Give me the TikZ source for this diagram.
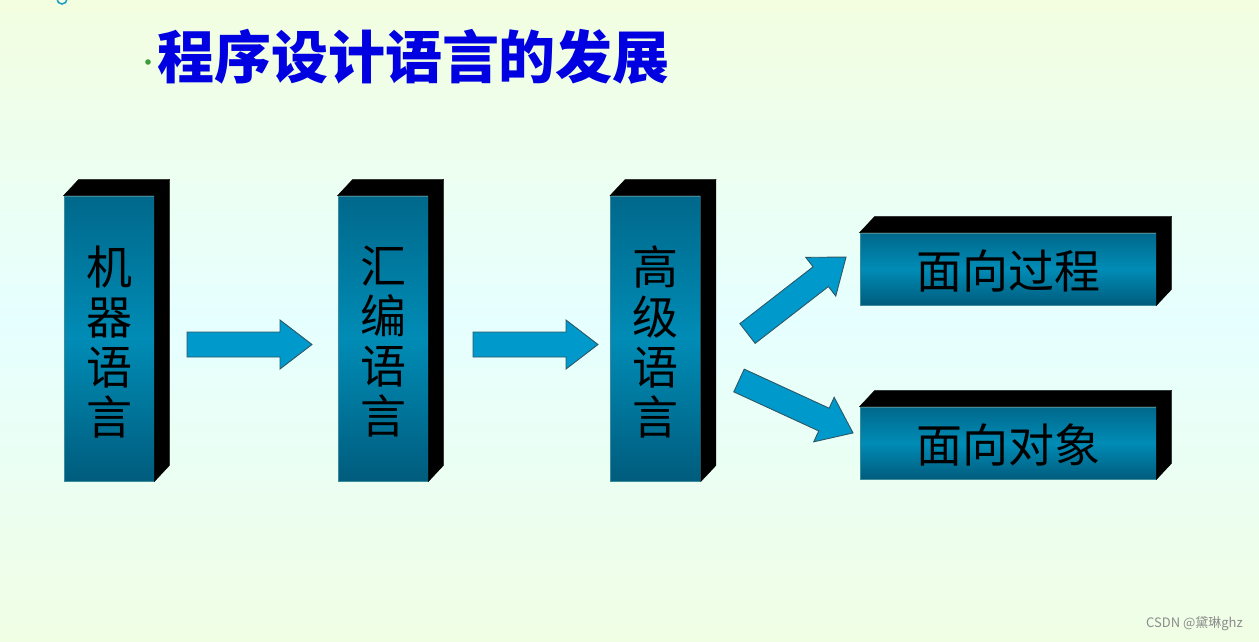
\documentclass[tikz,border=0pt]{standalone}
\usepackage{fontspec}
\newfontfamily\cjk{Noto Sans CJK SC}
\usetikzlibrary{calc}
\definecolor{bgtop}{HTML}{F3FEE0}
\definecolor{bgmid}{HTML}{E6FFFF}
\definecolor{bgbot}{HTML}{F0FEE4}
\definecolor{facetop}{HTML}{00688B}
\definecolor{facemid}{HTML}{008CB6}
\definecolor{facebot}{HTML}{005C7D}
\definecolor{faceline}{HTML}{3C8C9C}
\definecolor{arrowfillc}{HTML}{0099CC}
\definecolor{arrowline}{HTML}{2E5866}
\definecolor{titleblue}{HTML}{0000E0}
\definecolor{dotgreen}{HTML}{3C9C3C}
\definecolor{markcyan}{HTML}{20A0C8}
\tikzset{
  frontface/.style={shape=rectangle, inner sep=0pt, top color=facetop, bottom color=facebot, middle color=facemid, draw=faceline, line width=0.8pt, text=black},
  vtext/.style={font=\cjk\fontsize{46}{50}\selectfont, align=center},
  htext/.style={font=\cjk\fontsize{46}{50}\selectfont},
  darkside/.style={fill=black, draw=black, line width=0.5pt},
  arrowbody/.style={fill=arrowfillc, draw=arrowline, line width=0.9pt, line join=miter},
  blockarrow/.pic={
    \path[arrowbody] (0,-12.5) -- ({#1-32},-12.5) -- ({#1-32},-24.5) -- (#1,0) -- ({#1-32},24.5) -- ({#1-32},12.5) -- (0,12.5) -- cycle;
  }
}
\begin{document}
\begin{tikzpicture}[x=1pt,y=-1pt]
\useasboundingbox (0,0) rectangle (1259,641);
\shade[top color=bgtop, bottom color=bgbot, middle color=bgmid] (0,0) rectangle (1259,641);
% partial glyph at top-left
\draw[markcyan, line width=1.6pt] (57,-1) arc[start angle=180, end angle=0, radius=5];
% title
\fill[dotgreen] (148,62) circle[radius=2.8];
\node[font=\cjk\bfseries\fontsize{57}{60}\selectfont, text=titleblue, inner sep=0pt] (title) at (413.5,57) {程序设计语言的发展};
% vertical boxes
\foreach \n/\cx/\txt in {b1/109/{机\\器\\语\\言}, b2/383/{汇\\编\\语\\言}, b3/655.5/{高\\级\\语\\言}}{
  \node[frontface, minimum width=90pt, minimum height=285pt] (\n) at (\cx,338.5) {};
  \fill[darkside] (\n.north west) -- ++(15,-16) -- ([shift={(15,-16)}]\n.north east) -- (\n.north east) -- cycle;
  \fill[darkside] (\n.north east) -- ++(15,-16) -- ([shift={(15,-16)}]\n.south east) -- (\n.south east) -- cycle;
  \node[vtext] (\n t) at ([yshift=-3pt]\n.center) {\txt};
}
% horizontal boxes
\foreach \n/\cy/\txt in {b4/269/面向过程, b5/443/面向对象}{
  \node[frontface, minimum width=296pt, minimum height=72pt] (\n) at (1008,\cy) {};
  \fill[darkside] (\n.north west) -- ++(15,-16) -- ([shift={(15,-16)}]\n.north east) -- (\n.north east) -- cycle;
  \fill[darkside] (\n.north east) -- ++(15,-16) -- ([shift={(15,-16)}]\n.south east) -- (\n.south east) -- cycle;
  \node[htext] (\n t) at ([yshift=-2pt]\n.center) {\txt};
}
% block arrows
\pic at (187,344.5) {blockarrow=125};
\pic at (473,344.5) {blockarrow=125};
\pic[rotate=37.8] at (747.5,333.5) {blockarrow=124.7};
\pic[rotate=-24.7] at (739,380.5) {blockarrow=125.5};
% watermark
\node[font=\cjk\fontsize{13}{14}\selectfont, text=black!45, anchor=east, inner sep=0pt] (wm) at (1243,624) {CSDN @黛琳ghz};
\end{tikzpicture}
\end{document}
